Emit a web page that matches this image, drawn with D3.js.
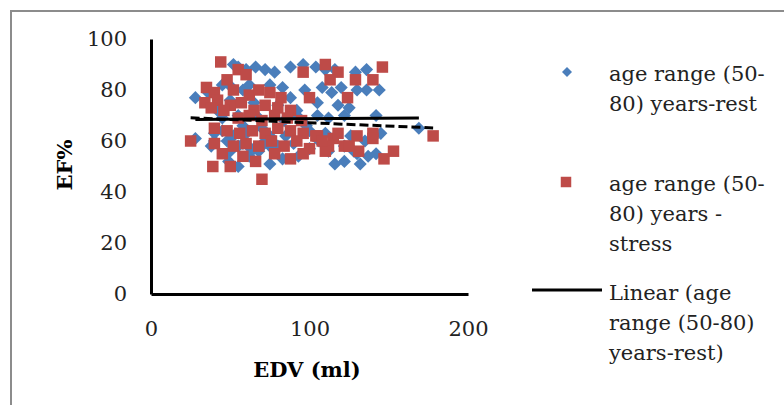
<!DOCTYPE html>
<html>
<head>
<meta charset="utf-8">
<script src="https://cdn.jsdelivr.net/npm/d3@7"></script>
<style>
  body { margin: 0; background: #fff; }
  svg { display: block; }
</style>
</head>
<body>
<div id="chart"></div>
<script>
// EDV (ml) vs EF% , age range (50-80)
const restX = [28, 28, 52, 55, 60, 66, 72, 78, 88, 96, 104, 110, 116, 129, 136,
  36, 45, 51, 58, 62, 75, 83, 97, 108, 114, 120, 130, 136, 144,
  50, 65, 80, 92, 105, 118, 125, 45, 55, 68, 84, 92, 105, 112, 122, 142, 169,
  38, 50, 63, 75, 90, 100, 112, 122, 130, 137,
  49, 55, 75, 83, 93, 116, 122, 132, 128, 142,
  40, 60, 70, 85, 100, 110, 126, 135, 145,
  42, 58, 72, 88, 98, 62, 106,
  40, 48, 55, 60, 65, 70, 45, 52, 68, 75, 58, 80];
const restY = [77, 61, 90, 89, 88, 89, 88, 87, 89, 90, 89, 88, 88, 87, 88,
  79, 82, 81, 80, 82, 82, 81, 80, 81, 79, 81, 80, 80, 80,
  76, 75, 74, 72, 75, 74, 73, 69, 70, 69, 68, 70, 70, 69, 70, 70, 65,
  58, 56, 57, 58, 59, 57, 56, 58, 55, 54,
  52, 50, 51, 53, 54, 51, 52, 51, 56, 55,
  63, 63, 65, 62, 64, 63, 62, 60, 63,
  72, 66, 60, 77, 66, 54, 60,
  60, 60, 58, 63, 57, 58, 64, 62, 56, 62, 59, 58];

const stressX = [44, 55, 60, 48, 52, 35, 40, 62, 68, 75, 82, 96, 100, 110, 118, 113, 129, 146, 124, 140,
  34, 42, 50, 57, 65, 72, 80, 88, 38, 46, 55, 62, 70, 78, 86, 95, 105, 140, 115,
  40, 48, 56, 64, 72, 80, 88, 96, 104, 118, 130, 140, 178,
  25, 40, 52, 60, 68, 76, 84, 92, 100, 112, 122,
  39, 50, 70, 45, 58, 66, 78, 88, 110, 131, 147, 153, 96, 108, 125];
const stressY = [91, 88, 86, 84, 80, 81, 79, 78, 80, 79, 77, 87, 77, 90, 87, 84, 84, 89, 77, 84,
  75, 76, 74, 75, 72, 74, 73, 72, 73, 72, 69, 70, 68, 70, 69, 68, 62, 63, 61,
  65, 64, 63, 64, 63, 65, 64, 63, 62, 63, 62, 61, 62,
  60, 59, 58, 59, 58, 60, 58, 60, 57, 58, 58,
  50, 50, 45, 55, 54, 52, 55, 53, 56, 56, 53, 56, 55, 60, 58];

const xTicks = [0, 100, 200];
const yTicks = [0, 20, 40, 60, 80, 100];
const legendItems = [
  { kind: 'diamond', lines: ['age range (50-', '80) years-rest'] },
  { kind: 'square', lines: ['age range (50-', '80) years -', 'stress'] },
  { kind: 'line', lines: ['Linear (age', 'range (50-80)', 'years-rest)'] }
];

const w = 784;
const h = 405;
const blue = '#4a7ebb';
const red = '#be4b48';
const serif = "'DejaVu Serif', 'Liberation Serif', serif";

const svg = d3.select('#chart')
  .append('svg')
  .attr('width', w)
  .attr('height', h);

// caption of the figure, mostly cut off at the top of the picture
svg.append('text')
  .attr('x', 390)
  .attr('y', -4)
  .attr('text-anchor', 'middle')
  .attr('font-family', serif)
  .attr('font-weight', 'bold')
  .attr('font-size', 19)
  .text('Figure 4: age range scatter plot of EF% (EDV, rest) and (stress)');

// chart frame
svg.append('rect')
  .attr('x', 11)
  .attr('y', 11)
  .attr('width', 820)
  .attr('height', 440)
  .attr('fill', 'none')
  .attr('stroke', '#8c8c8c')
  .attr('stroke-width', 2);

const x = d3.scaleLinear().domain([0, 200]).range([151, 468]);
const y = d3.scaleLinear().domain([0, 100]).range([294, 39]);

const xAxis = svg.append('g')
  .attr('transform', `translate(0,${y(0)})`)
  .call(d3.axisBottom(x).tickValues(xTicks).tickSize(0).tickPadding(27));
const yAxis = svg.append('g')
  .attr('transform', `translate(${x(0)},0)`)
  .call(d3.axisLeft(y).tickValues(yTicks).tickSize(0).tickPadding(24));

[xAxis, yAxis].forEach(g => {
  g.select('.domain').attr('stroke', '#000').attr('stroke-width', 3);
  g.selectAll('text')
    .attr('font-family', serif)
    .attr('font-size', 21)
    .attr('fill', '#222');
});

svg.append('text')
  .attr('transform', 'translate(72,165) rotate(-90)')
  .attr('text-anchor', 'middle')
  .attr('font-family', serif)
  .attr('font-weight', 'bold')
  .attr('font-size', 21)
  .text('EF%');

svg.append('text')
  .attr('x', 307)
  .attr('y', 377)
  .attr('text-anchor', 'middle')
  .attr('font-family', serif)
  .attr('font-weight', 'bold')
  .attr('font-size', 21)
  .text('EDV (ml)');

const diamond = d3.symbol().type(d3.symbolSquare).size(86);
const square = d3.symbol().type(d3.symbolSquare).size(132);

const rest = restX.map((v, i) => [v, restY[i]]);
const stress = stressX.map((v, i) => [v, stressY[i]]);

svg.append('g')
  .selectAll('path')
  .data(rest)
  .enter()
  .append('path')
  .attr('d', diamond)
  .attr('transform', d => `translate(${x(d[0])},${y(d[1])}) rotate(45)`)
  .attr('fill', blue);

svg.append('g')
  .selectAll('path')
  .data(stress)
  .enter()
  .append('path')
  .attr('d', square)
  .attr('transform', d => `translate(${x(d[0])},${y(d[1])})`)
  .attr('fill', red);

// least squares trend, drawn over the range of the series
function trend(pts) {
  const mx = d3.mean(pts, d => d[0]);
  const my = d3.mean(pts, d => d[1]);
  const b = d3.sum(pts, d => (d[0] - mx) * (d[1] - my)) / d3.sum(pts, d => (d[0] - mx) * (d[0] - mx));
  const a = my - b * mx;
  const ext = d3.extent(pts, d => d[0]);
  return ext.map(v => [v, a + b * v]);
}

const line = d3.line().x(d => x(d[0])).y(d => y(d[1]));

svg.append('path')
  .attr('d', line(trend(rest)))
  .attr('stroke', '#000')
  .attr('stroke-width', 3)
  .attr('fill', 'none');

svg.append('path')
  .attr('d', line(trend(stress)))
  .attr('stroke', '#000')
  .attr('stroke-width', 3)
  .attr('stroke-dasharray', '9,4')
  .attr('fill', 'none');

// legend
const legendTop = [81, 191, 300];
const lineGap = 30;
legendItems.forEach((item, i) => {
  const g = svg.append('g');
  const by = legendTop[i];
  if (item.kind === 'diamond') {
    g.append('path').attr('d', d3.symbol().type(d3.symbolSquare).size(50))
      .attr('transform', `translate(567,${by - 9}) rotate(45)`)
      .attr('fill', blue);
  } else if (item.kind === 'square') {
    g.append('path').attr('d', d3.symbol().type(d3.symbolSquare).size(110))
      .attr('transform', `translate(566,${by - 9})`)
      .attr('fill', red);
  } else {
    g.append('line')
      .attr('x1', 532).attr('x2', 602)
      .attr('y1', by - 10).attr('y2', by - 10)
      .attr('stroke', '#000')
      .attr('stroke-width', 3);
  }
  item.lines.forEach((t, j) => {
    g.append('text')
      .attr('x', 609)
      .attr('y', by + j * lineGap)
      .attr('font-family', serif)
      .attr('font-size', 21)
      .attr('fill', '#222')
      .text(t);
  });
});
</script>
</body>
</html>
